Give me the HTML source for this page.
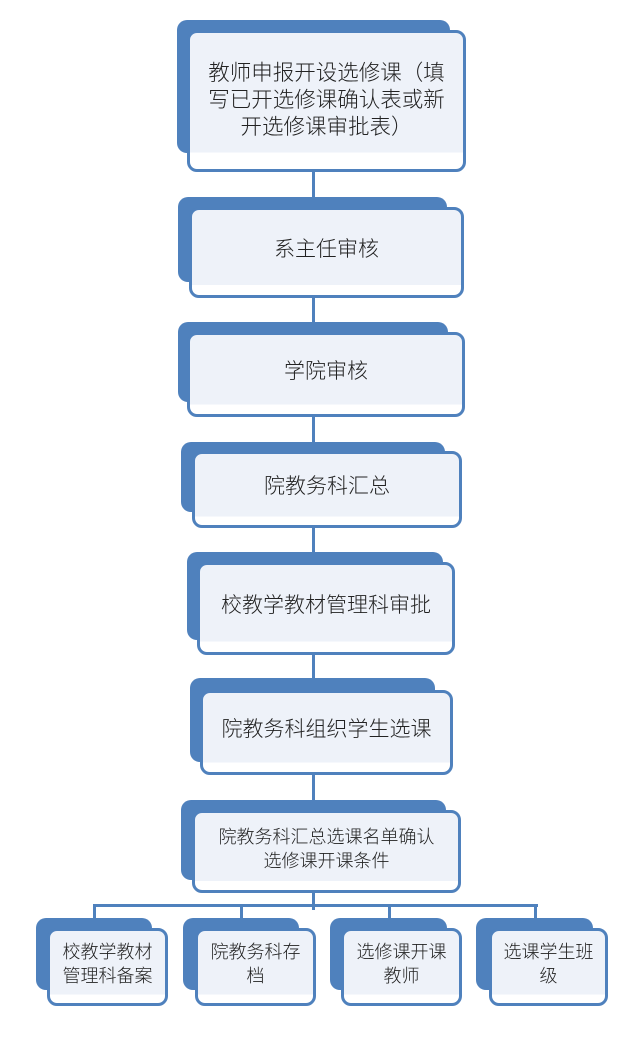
<!DOCTYPE html>
<html><head><meta charset="utf-8"><style>
body{margin:0;width:640px;height:1040px;background:#fff;position:relative;overflow:hidden;font-family:"Liberation Sans","Noto Sans CJK SC",sans-serif;}
.b{position:absolute;background:#4f81bd;border-radius:10px;}
.f{position:absolute;box-sizing:border-box;border:3px solid #4f81bd;border-radius:10px;background:linear-gradient(#eef2f9,#eef2f9 88%,#fff 88%);display:flex;align-items:center;justify-content:center;text-align:center;color:#222;font-size:21px;line-height:27px;padding:0 2px 6px 2px;white-space:nowrap;font-weight:300;}
.s{font-size:18px;line-height:24px;}
.l{position:absolute;background:#4f81bd;}
</style></head><body>
<div class="l" style="left:312px;top:160px;width:3px;height:750px"></div>
<div class="l" style="left:93px;top:904px;width:445px;height:3px"></div>
<div class="l" style="left:93px;top:904px;width:3px;height:20px"></div>
<div class="l" style="left:240px;top:904px;width:3px;height:20px"></div>
<div class="l" style="left:388px;top:904px;width:3px;height:20px"></div>
<div class="l" style="left:534px;top:904px;width:3px;height:20px"></div>

<div class="b" style="left:177px;top:20px;width:273px;height:133px"></div>
<div class="f" style="left:187px;top:30px;width:279px;height:142px;font-size:21.5px;line-height:27px;padding-top:4px">教师申报开设选修课（填<br>写已开选修课确认表或新<br>开选修课审批表）</div>

<div class="b" style="left:178px;top:197px;width:269px;height:85px"></div>
<div class="f" style="left:189px;top:207px;width:275px;height:91px">系主任审核</div>

<div class="b" style="left:178px;top:322px;width:270px;height:80px"></div>
<div class="f" style="left:187px;top:332px;width:278px;height:85px">学院审核</div>

<div class="b" style="left:181px;top:442px;width:264px;height:70px"></div>
<div class="f" style="left:192px;top:451px;width:270px;height:77px">院教务科汇总</div>

<div class="b" style="left:187px;top:552px;width:256px;height:88px"></div>
<div class="f" style="left:197px;top:562px;width:258px;height:93px">校教学教材管理科审批</div>

<div class="b" style="left:190px;top:678px;width:245px;height:84px"></div>
<div class="f" style="left:200px;top:690px;width:253px;height:85px">院教务科组织学生选课</div>

<div class="b" style="left:181px;top:800px;width:265px;height:80px"></div>
<div class="f s" style="left:192px;top:810px;width:269px;height:83px">院教务科汇总选课名单确认<br>选修课开课条件</div>

<div class="b" style="left:36px;top:918px;width:116px;height:72px"></div>
<div class="f s" style="left:47px;top:928px;width:121px;height:78px">校教学教材<br>管理科备案</div>
<div class="b" style="left:183px;top:918px;width:116px;height:72px"></div>
<div class="f s" style="left:195px;top:928px;width:121px;height:78px">院教务科存<br>档</div>
<div class="b" style="left:330px;top:918px;width:117px;height:72px"></div>
<div class="f s" style="left:341px;top:928px;width:121px;height:78px">选修课开课<br>教师</div>
<div class="b" style="left:476px;top:918px;width:117px;height:72px"></div>
<div class="f s" style="left:489px;top:928px;width:119px;height:78px">选课学生班<br>级</div>
</body></html>
